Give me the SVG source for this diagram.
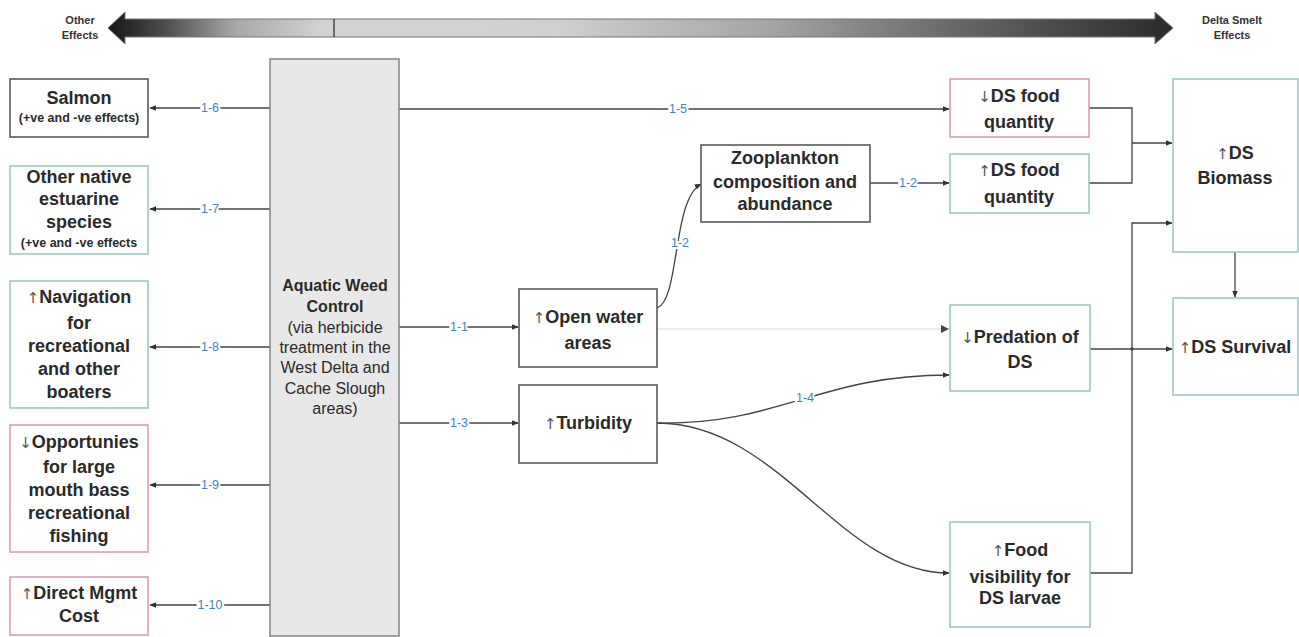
<svg xmlns="http://www.w3.org/2000/svg" width="1299" height="637" viewBox="0 0 1299 637">
  <style>
    .box{fill:#fff;stroke-width:1.6}
    .dk{stroke:#5a5a5a}
    .tl{stroke:#9ccac2}
    .pk{stroke:#d9a0ad}
    .t{font-family:"Liberation Sans",Arial,sans-serif;font-weight:bold;font-size:18px;fill:#2a2a2a;text-anchor:middle}
    .s{font-size:12.5px}
    .r{font-weight:normal;font-size:16px}
    .ar{font-family:"DejaVu Sans",sans-serif;font-weight:normal;font-size:15px;fill:#555}
    .c{fill:none;stroke:#444;stroke-width:1.3}
    .faint{fill:none;stroke:#d8d8d8;stroke-width:1.2}
    .lb{font-family:"Liberation Sans",Arial,sans-serif;font-size:12.5px;fill:#3a86c8;text-anchor:middle;paint-order:stroke;stroke:#fff;stroke-width:4px}
    .hd{font-family:"Liberation Sans",Arial,sans-serif;font-weight:bold;font-size:11px;fill:#333;text-anchor:middle}
  </style>
  <defs>
    <marker id="ah" viewBox="0 0 10 10" refX="9" refY="5" markerWidth="7" markerHeight="7" markerUnits="userSpaceOnUse" orient="auto">
      <path d="M0,1 L10,5 L0,9 Z" fill="#333"/>
    </marker>
    <linearGradient id="band" x1="108" y1="0" x2="1173" y2="0" gradientUnits="userSpaceOnUse">
      <stop offset="0" stop-color="#151515"/>
      <stop offset="0.06" stop-color="#555"/>
      <stop offset="0.12" stop-color="#a8a8a8"/>
      <stop offset="0.2" stop-color="#d2d2d2"/>
      <stop offset="0.42" stop-color="#d0d0d0"/>
      <stop offset="0.62" stop-color="#a5a5a5"/>
      <stop offset="0.8" stop-color="#666"/>
      <stop offset="1" stop-color="#2a2a2a"/>
    </linearGradient>
  </defs>

  <!-- effects scale band -->
  <g id="scale">
    <path d="M108,28 L125,12 L125,19 L1155,19 L1155,12 L1173,28 L1155,44 L1155,37 L125,37 L125,44 Z" fill="url(#band)" stroke="#777" stroke-width="1"/>
    <line x1="334" y1="19" x2="334" y2="37" stroke="#444" stroke-width="1.5"/>
    <text class="hd" x="80" y="24">Other</text>
    <text class="hd" x="80" y="39">Effects</text>
    <text class="hd" x="1232" y="24">Delta Smelt</text>
    <text class="hd" x="1232" y="39">Effects</text>
  </g>

  <!-- connectors -->
  <g id="connectors">
    <path class="c" d="M270,108 H150" marker-end="url(#ah)"/>
    <path class="c" d="M270,209 H150" marker-end="url(#ah)"/>
    <path class="c" d="M270,347 H150" marker-end="url(#ah)"/>
    <path class="c" d="M270,485 H150" marker-end="url(#ah)"/>
    <path class="c" d="M270,605 H150" marker-end="url(#ah)"/>
    <path class="c" d="M399,109 H949" marker-end="url(#ah)"/>
    <path class="c" d="M399,327 H518" marker-end="url(#ah)"/>
    <path class="c" d="M399,423 H518" marker-end="url(#ah)"/>
    <path class="c" d="M657,308 C680,300 672,200 701,184" marker-end="url(#ah)"/>
    <path class="c" d="M870,183 H949" marker-end="url(#ah)"/>
    <path class="faint" d="M657,329 H949"/>
    <path d="M941,325 L949,329 L941,333 Z" fill="#444"/>
    <path class="c" d="M657,423 C780,425 820,375 949,375" marker-end="url(#ah)"/>
    <path class="c" d="M657,423 C780,423 840,573 949,573" marker-end="url(#ah)"/>
    <path class="c" d="M1089,108 H1132 V183 H1089"/>
    <path class="c" d="M1132,143 H1172" marker-end="url(#ah)"/>
    <path class="c" d="M1089,573 H1132 V223 H1172" marker-end="url(#ah)"/>
    <path class="c" d="M1089,349 H1172" marker-end="url(#ah)"/>
    <circle cx="1132" cy="349" r="1.8" fill="#444"/>
    <path class="c" d="M1235,252 V297" marker-end="url(#ah)"/>
    <text class="lb" x="210" y="112">1-6</text>
    <text class="lb" x="210" y="213">1-7</text>
    <text class="lb" x="210" y="351">1-8</text>
    <text class="lb" x="210" y="489">1-9</text>
    <text class="lb" x="210" y="609">1-10</text>
    <text class="lb" x="678" y="113">1-5</text>
    <text class="lb" x="459" y="331">1-1</text>
    <text class="lb" x="459" y="427">1-3</text>
    <text class="lb" x="680" y="247">1-2</text>
    <text class="lb" x="908" y="187">1-2</text>
    <text class="lb" x="805" y="402">1-4</text>
  </g>

  <!-- central driver -->
  <g id="weed-control">
    <rect x="270" y="59" width="129" height="577" fill="#e8e8e8" stroke="#8a8a8a" stroke-width="1.6"/>
    <text class="t" style="font-size:16px" x="335" y="291">Aquatic Weed</text>
    <text class="t" style="font-size:16px" x="335" y="312">Control</text>
    <text class="t r" x="335" y="333">(via herbicide</text>
    <text class="t r" x="335" y="353">treatment in the</text>
    <text class="t r" x="335" y="373">West Delta and</text>
    <text class="t r" x="335" y="394">Cache Slough</text>
    <text class="t r" x="335" y="414">areas)</text>
  </g>

  <!-- other effects -->
  <g id="salmon">
    <rect class="box dk" x="10" y="79" width="138" height="58"/>
    <text class="t" x="79" y="104">Salmon</text>
    <text class="t s" x="79" y="122">(+ve and -ve effects)</text>
  </g>
  <g id="native-species">
    <rect class="box tl" x="10" y="166" width="138" height="88"/>
    <text class="t" x="79" y="183">Other native</text>
    <text class="t" x="79" y="205">estuarine</text>
    <text class="t" x="79" y="228">species</text>
    <text class="t s" x="79" y="247">(+ve and -ve effects</text>
  </g>
  <g id="navigation">
    <rect class="box tl" x="10" y="281" width="138" height="127"/>
    <text class="t" x="79" y="303"><tspan class="ar">↑</tspan>Navigation</text>
    <text class="t" x="79" y="329">for</text>
    <text class="t" x="79" y="352">recreational</text>
    <text class="t" x="79" y="375">and other</text>
    <text class="t" x="79" y="398">boaters</text>
  </g>
  <g id="bass-fishing">
    <rect class="box pk" x="10" y="425" width="138" height="127"/>
    <text class="t" x="79" y="448"><tspan class="ar">↓</tspan>Opportunies</text>
    <text class="t" x="79" y="473">for large</text>
    <text class="t" x="79" y="496">mouth bass</text>
    <text class="t" x="79" y="519">recreational</text>
    <text class="t" x="79" y="542">fishing</text>
  </g>
  <g id="mgmt-cost">
    <rect class="box pk" x="10" y="577" width="138" height="58"/>
    <text class="t" x="79" y="599"><tspan class="ar">↑</tspan>Direct Mgmt</text>
    <text class="t" x="79" y="622">Cost</text>
  </g>

  <!-- habitat changes -->
  <g id="open-water">
    <rect class="box dk" x="519" y="289" width="138" height="78"/>
    <text class="t" x="588" y="323"><tspan class="ar">↑</tspan>Open water</text>
    <text class="t" x="588" y="349">areas</text>
  </g>
  <g id="turbidity">
    <rect class="box dk" x="519" y="385" width="138" height="78"/>
    <text class="t" x="588" y="429"><tspan class="ar">↑</tspan>Turbidity</text>
  </g>
  <g id="zooplankton">
    <rect class="box dk" x="701" y="145" width="169" height="77"/>
    <text class="t" x="785" y="164">Zooplankton</text>
    <text class="t" x="785" y="188">composition and</text>
    <text class="t" x="785" y="210">abundance</text>
  </g>

  <!-- delta smelt effects -->
  <g id="food-down">
    <rect class="box pk" x="950" y="79" width="139" height="58"/>
    <text class="t" x="1019" y="102"><tspan class="ar">↓</tspan>DS food</text>
    <text class="t" x="1019" y="128">quantity</text>
  </g>
  <g id="food-up">
    <rect class="box tl" x="950" y="154" width="139" height="59"/>
    <text class="t" x="1019" y="176"><tspan class="ar">↑</tspan>DS food</text>
    <text class="t" x="1019" y="203">quantity</text>
  </g>
  <g id="predation">
    <rect class="box tl" x="950" y="305" width="140" height="86"/>
    <text class="t" x="1020" y="343"><tspan class="ar">↓</tspan>Predation of</text>
    <text class="t" x="1020" y="368">DS</text>
  </g>
  <g id="food-visibility">
    <rect class="box tl" x="950" y="522" width="140" height="105"/>
    <text class="t" x="1020" y="556"><tspan class="ar">↑</tspan>Food</text>
    <text class="t" x="1020" y="583">visibility for</text>
    <text class="t" x="1020" y="604">DS larvae</text>
  </g>
  <g id="biomass">
    <rect class="box tl" x="1173" y="79" width="125" height="173"/>
    <text class="t" x="1235" y="159"><tspan class="ar">↑</tspan>DS</text>
    <text class="t" x="1235" y="184">Biomass</text>
  </g>
  <g id="survival">
    <rect class="box tl" x="1173" y="298" width="125" height="97"/>
    <text class="t" x="1235" y="353"><tspan class="ar">↑</tspan>DS Survival</text>
  </g>
</svg>
